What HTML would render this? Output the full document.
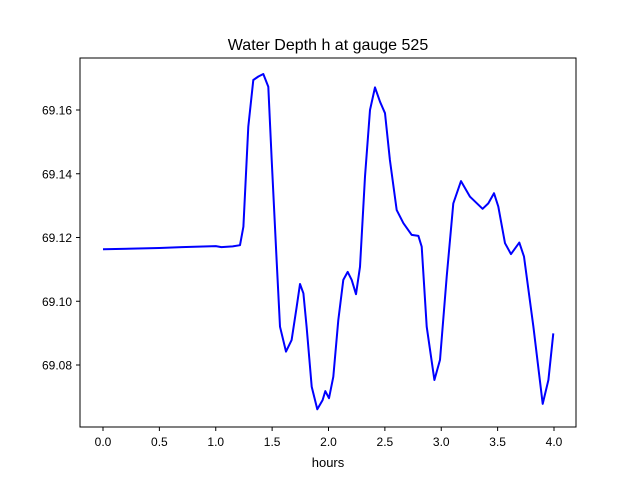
<!DOCTYPE html>
<html><head><meta charset="utf-8"><style>body{margin:0;background:#fff}svg{display:block;font-family:"Liberation Sans","DejaVu Sans",sans-serif}</style></head>
<body>
<svg id="chart" width="640" height="480" viewBox="0 0 640 480">
<rect width="640" height="480" fill="#fff"/>
<text x="328" y="50" text-anchor="middle" font-size="16">Water Depth h at gauge 525</text>
<text x="328" y="467" text-anchor="middle" font-size="13">hours</text>
<g id="ticks"></g>
<path id="line" fill="none" stroke="#0000ff" stroke-width="2" stroke-linejoin="round"/>
<rect x="80" y="58" width="496" height="369" fill="none" stroke="#000" stroke-width="1"/>
</svg>
<script>
const hours=[0,0.5,0.7,1.0,1.05,1.15,1.215,1.245,1.289,1.333,1.378,1.422,1.466,1.496,1.54,1.57,1.623,1.673,1.718,1.747,1.777,1.806,1.851,1.901,1.948,1.972,2.004,2.043,2.087,2.131,2.17,2.206,2.244,2.279,2.324,2.368,2.412,2.457,2.501,2.545,2.605,2.664,2.738,2.797,2.827,2.871,2.939,2.989,3.048,3.107,3.175,3.255,3.367,3.417,3.468,3.506,3.565,3.619,3.692,3.734,3.817,3.9,3.95,3.994];
const depth=[69.1163,69.1167,69.117,69.1173,69.117,69.1172,69.1176,69.1234,69.1548,69.1694,69.1705,69.1713,69.1673,69.1443,69.113,69.092,69.0842,69.0878,69.0983,69.1054,69.1025,69.092,69.0732,69.0661,69.069,69.0718,69.0696,69.0763,69.0941,69.1067,69.1092,69.1067,69.1022,69.1108,69.1391,69.16,69.1671,69.1626,69.159,69.1443,69.1286,69.1245,69.1208,69.1205,69.1171,69.092,69.0753,69.0816,69.1077,69.1307,69.1377,69.1328,69.129,69.1307,69.1339,69.1297,69.1182,69.1148,69.1184,69.114,69.092,69.0678,69.0753,69.0899];
const xTicks=[0,0.5,1,1.5,2,2.5,3,3.5,4];
const xTickLabels=["0.0","0.5","1.0","1.5","2.0","2.5","3.0","3.5","4.0"];
const yTicks=[69.08,69.10,69.12,69.14,69.16];
const yTickLabels=["69.08","69.10","69.12","69.14","69.16"];
const X=h=>103+h*112.75;
const Y=v=>110+(69.16-v)/0.02*63.75;
const ns="http://www.w3.org/2000/svg";
const g=document.getElementById('ticks');
function mk(t,a){const e=document.createElementNS(ns,t);for(const k in a)e.setAttribute(k,a[k]);return e;}
xTicks.forEach((t,i)=>{
 const l=mk('line',{x1:X(t),x2:X(t),y1:427,y2:431,stroke:'#000'});
 
 
 g.appendChild(l);
 const s=mk('text',{x:X(t),y:446,'text-anchor':'middle','font-size':'12'});
 s.textContent=xTickLabels[i];
 
 
 g.appendChild(s);
});
yTicks.forEach((t,i)=>{
 const l=mk('line',{x1:76,x2:80,y1:Y(t),y2:Y(t),stroke:'#000'});
 
 
 g.appendChild(l);
 const s=mk('text',{x:72,y:Y(t)+4.5,'text-anchor':'end','font-size':'12'});
 s.textContent=yTickLabels[i];
 
 
 g.appendChild(s);
});
document.getElementById('line').setAttribute('d',hours.map((h,i)=>(i?'L':'M')+X(h).toFixed(1)+','+Y(depth[i]).toFixed(1)).join(''));
</script>
</body></html>
